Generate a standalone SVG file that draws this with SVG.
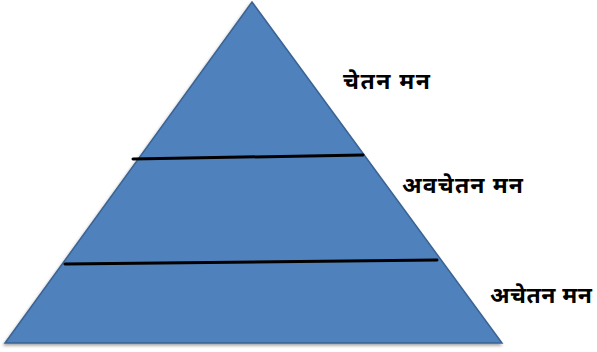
<svg xmlns="http://www.w3.org/2000/svg" width="597" height="352" viewBox="0 0 597 352">
<style>
.lbl{font-family:"Noto Sans Devanagari","Noto Serif Devanagari","Lohit Devanagari",Mangal,"Noto Sans","DejaVu Sans",sans-serif;font-size:23px;font-weight:bold;fill:#000}
.div{stroke:#000;stroke-width:3;stroke-linecap:round;fill:none}
</style>
<defs>
<filter id="sh" x="-10%" y="-10%" width="120%" height="120%">
<feGaussianBlur in="SourceAlpha" stdDeviation="1.5"/>
<feOffset dx="-1" dy="2" result="b"/>
<feFlood flood-color="#000" flood-opacity="0.35"/>
<feComposite in2="b" operator="in"/>
<feMerge><feMergeNode/><feMergeNode in="SourceGraphic"/></feMerge>
</filter>
</defs>
<rect width="597" height="352" fill="#fff"/>
<g id="pyramid">
<polygon points="252,2 502,343 5,343" fill="#4F81BD" stroke="#3A6393" stroke-width="1.5" filter="url(#sh)"/>
</g>
<g id="connectors">
<line class="div" x1="133" y1="159" x2="363" y2="155"/>
<line class="div" x1="65" y1="264" x2="437" y2="260"/>
</g>
<g id="label-conscious">
<text class="lbl" x="343" y="89" textLength="87" lengthAdjust="spacing">चेतन मन</text>
</g>
<g id="label-subconscious">
<text class="lbl" x="402" y="193" textLength="121" lengthAdjust="spacing">अवचेतन मन</text>
</g>
<g id="label-unconscious">
<text class="lbl" x="490" y="303" textLength="102" lengthAdjust="spacing">अचेतन मन</text>
</g>
</svg>
